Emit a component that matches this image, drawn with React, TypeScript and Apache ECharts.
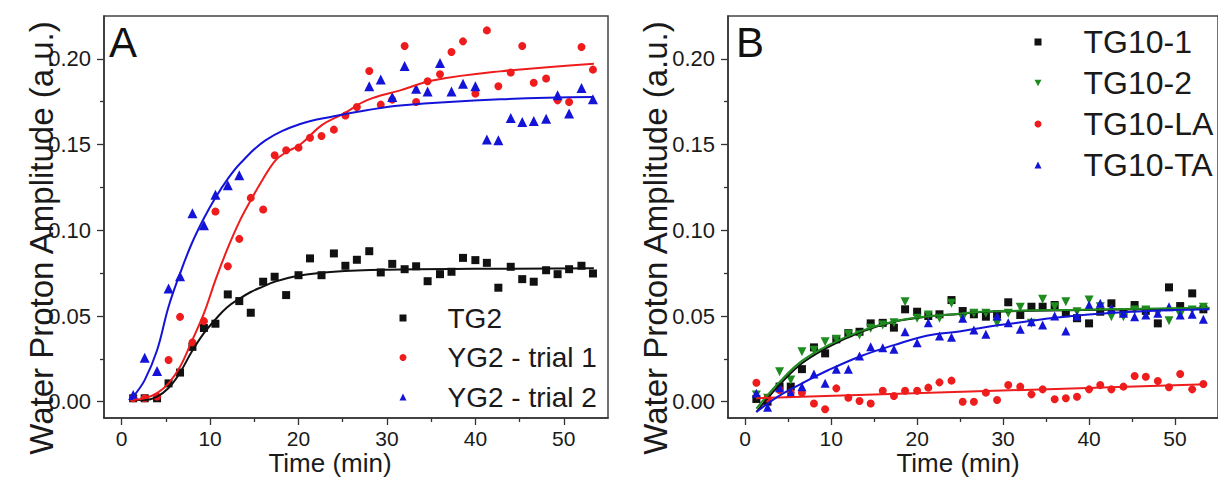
import React, { useEffect, useRef } from "react";
import * as echarts from "echarts";

// ---- shared sampling times (min) ----
const timeMin = [1.3, 2.6, 4.0, 5.3, 6.6, 8.0, 9.3, 10.6, 12.0, 13.3, 14.6, 16.0, 17.3, 18.6, 20.0, 21.3, 22.6, 24.0, 25.3, 26.6, 28.0, 29.3, 30.6, 32.0, 33.3, 34.6, 36.0, 37.3, 38.6, 40.0, 41.3, 42.6, 44.0, 45.3, 46.6, 48.0, 49.3, 50.6, 52.0, 53.3];

// ---- panel A data ----
const tg2 = [0.002, 0.002, 0.002, 0.0107, 0.017, 0.032, 0.043, 0.0455, 0.0626, 0.0587, 0.0519, 0.070, 0.0729, 0.0622, 0.0738, 0.0836, 0.0738, 0.0865, 0.0793, 0.0828, 0.0878, 0.0754, 0.0804, 0.0773, 0.079, 0.0703, 0.0744, 0.0758, 0.0839, 0.0826, 0.081, 0.0665, 0.0787, 0.0715, 0.070, 0.0767, 0.0744, 0.0773, 0.0793, 0.0748];
const yg2Trial1 = [0.002, 0.002, 0.003, 0.0243, 0.0495, 0.0346, 0.047, 0.111, 0.079, 0.095, 0.1189, 0.1121, 0.1438, 0.1467, 0.1482, 0.154, 0.155, 0.1587, 0.167, 0.1719, 0.1929, 0.1733, 0.1762, 0.2075, 0.1748, 0.1869, 0.191, 0.204, 0.2102, 0.1797, 0.2166, 0.184, 0.192, 0.2075, 0.1861, 0.1885, 0.1758, 0.1748, 0.2069, 0.1937];
const yg2Trial2 = [0.0039, 0.0257, 0.0179, 0.066, 0.0732, 0.110, 0.103, 0.1208, 0.1263, 0.1321, null, null, null, null, null, null, null, null, null, null, 0.184, 0.1879, 0.1777, 0.1958, 0.1826, 0.181, 0.1976, 0.181, 0.1855, 0.184, 0.1529, 0.1525, 0.1655, 0.1632, 0.1638, 0.1651, 0.1787, 0.1681, 0.183, 0.1764];

const tg2FitT = [1.3, 2.6, 4.0, 5.3, 6.6, 7.9, 9.3, 10.6, 11.9, 13.3, 14.6, 15.9, 17.3, 20.0, 24.0, 30.0, 40.0, 53.4];
const tg2FitY = [0.001, 0.001, 0.003, 0.008, 0.017, 0.029, 0.040, 0.048, 0.055, 0.060, 0.064, 0.067, 0.070, 0.0735, 0.0758, 0.0770, 0.0775, 0.0778];
const yg2Trial1FitT = [1.3, 2.6, 4.0, 5.3, 6.6, 7.9, 9.3, 10.6, 11.9, 13.3, 14.6, 15.9, 17.4, 18.65, 20.2, 22.6, 25.1, 27.7, 31.5, 35.3, 42.8, 53.4];
const yg2Trial1FitY = [0.001, 0.002, 0.005, 0.0107, 0.0204, 0.035, 0.0515, 0.0709, 0.0884, 0.1049, 0.1175, 0.1292, 0.1408, 0.1457, 0.150, 0.1612, 0.168, 0.1758, 0.1816, 0.1875, 0.1927, 0.1972];
const yg2Trial2FitT = [1.3, 2.6, 4.0, 5.3, 6.6, 7.9, 9.3, 10.6, 12.0, 13.4, 16.3, 20.2, 24.0, 27.7, 31.5, 42.8, 53.4];
const yg2Trial2FitY = [0.003, 0.0126, 0.030, 0.0554, 0.0748, 0.092, 0.107, 0.119, 0.130, 0.139, 0.1526, 0.162, 0.1665, 0.170, 0.1728, 0.1764, 0.1777];

// ---- panel B data ----
const tg10_1 = [0.0016, 0.0, 0.0088, 0.0088, 0.019, 0.0317, 0.0282, 0.0364, 0.040, 0.0408, 0.0457, 0.046, 0.0432, 0.0539, 0.0525, 0.050, 0.051, 0.0593, 0.0529, 0.051, 0.0496, 0.051, 0.058, 0.0506, 0.0554, 0.0554, 0.0564, 0.0516, 0.0487, 0.0457, 0.0525, 0.0574, 0.052, 0.0564, 0.053, 0.0457, 0.0667, 0.0558, 0.0632, 0.0539];
const tg10_2 = [0.0039, 0.002, 0.0175, 0.0127, 0.0292, 0.030, 0.035, 0.0364, 0.0393, 0.0389, 0.0428, 0.0447, 0.046, 0.0583, 0.0487, 0.0506, 0.0487, 0.0574, 0.0487, 0.0516, 0.0516, 0.0457, 0.0516, 0.0551, 0.0457, 0.0597, 0.0554, 0.0583, 0.0525, 0.0593, 0.0554, 0.0496, 0.0496, 0.0535, 0.0535, 0.0516, 0.0473, 0.0506, 0.0535, 0.0551];
const tg10LA = [0.0111, 0.002, 0.0068, 0.0053, 0.0053, -0.001, -0.0044, 0.0078, 0.0023, 0.0004, -0.001, 0.0064, 0.0033, 0.0064, 0.0064, 0.0082, 0.0113, 0.0123, 0.0, 0.0, 0.0053, 0.001, 0.0097, 0.0088, 0.0043, 0.0072, 0.0014, 0.002, 0.0029, 0.0072, 0.0097, 0.0072, 0.0088, 0.015, 0.0146, 0.0121, 0.0084, 0.0162, 0.0072, 0.0103];
const tg10TA = [0.0049, -0.0033, 0.0082, 0.0053, 0.0088, 0.0162, 0.0107, 0.0189, 0.0189, 0.0267, 0.0321, 0.0315, 0.0306, 0.0408, 0.0344, 0.0461, 0.0383, 0.0376, 0.0487, 0.0418, 0.0393, 0.050, 0.0461, 0.0422, 0.0467, 0.0447, 0.050, 0.0413, 0.050, 0.0564, 0.0574, 0.0545, 0.0516, 0.0496, 0.0506, 0.0516, 0.0554, 0.0506, 0.051, 0.0481];

const tg10_1FitT = [1.3, 3.8, 6.6, 9.7, 13.5, 17.3, 21.1, 24.9, 27.9, 39.3, 54.0];
const tg10_1FitY = [-0.006, 0.0088, 0.0224, 0.032, 0.0408, 0.0467, 0.0496, 0.0512, 0.0525, 0.0535, 0.0545];
const tg10_2FitT = [1.3, 3.8, 6.6, 9.7, 13.5, 17.3, 21.1, 24.9, 27.9, 39.3, 54.0];
const tg10_2FitY = [-0.004, 0.0105, 0.0238, 0.033, 0.0413, 0.0468, 0.0497, 0.0513, 0.0526, 0.0537, 0.0548];
const tg10LAFitT = [1.3, 53.6];
const tg10LAFitY = [0.002, 0.0102];
const tg10TAFitT = [1.3, 3.8, 6.6, 9.7, 13.5, 17.3, 21.1, 24.9, 27.9, 31.7, 35.5, 39.3, 45.0, 54.0];
const tg10TAFitY = [-0.006, 0.003, 0.0107, 0.0185, 0.0267, 0.033, 0.0385, 0.041, 0.0435, 0.0461, 0.0487, 0.0506, 0.0525, 0.0539];

// ---- axis ticks ----
const xMajorTicks = [0, 10, 20, 30, 40, 50];
const xMinorTicks = [5, 15, 25, 35, 45];
const yMajorTicks = [0, 0.05, 0.1, 0.15, 0.2];
const yMinorTicks = [0.025, 0.075, 0.125, 0.175];

const FONT = "'Liberation Sans', Arial, sans-serif";
const INK = "#1a1a1a";
const BLACK = "#111111";
const RED = "#ee1c1c";
const BLUE = "#1414d8";
const GREEN = "#1e8c1e";

const pts = (vals: (number | null)[]) =>
  timeMin.map((t, i) => [t, vals[i]]).filter((d) => d[1] !== null);
const pairs = (ts: number[], ys: number[]) => ts.map((t, i) => [t, ys[i]]);

function xAxes(gridIndex: number) {
  const base = {
    type: "value",
    gridIndex,
    position: "bottom",
    offset: 0,
    min: -2,
    max: 55,
    splitLine: { show: false },
  };
  return [
    {
      ...base,
      axisLine: { show: true, onZero: false, lineStyle: { color: "#333", width: 1.5 } },
      axisTick: { show: true, customValues: xMajorTicks, length: 7, lineStyle: { color: "#333", width: 1.3 } },
      axisLabel: {
        show: true,
        customValues: xMajorTicks,
        fontSize: 21,
        color: INK,
        fontFamily: FONT,
        margin: 10,
      },
    },
    {
      ...base,
      axisLine: { show: false, onZero: false },
      axisTick: { show: true, customValues: xMinorTicks, length: 4, lineStyle: { color: "#333", width: 1.3 } },
      axisLabel: { show: false },
    },
  ];
}

function yAxes(gridIndex: number) {
  const base = {
    type: "value",
    gridIndex,
    position: "left",
    offset: 0,
    min: -0.0095,
    max: 0.225,
    splitLine: { show: false },
  };
  return [
    {
      ...base,
      axisLine: { show: true, onZero: false, lineStyle: { color: "#333", width: 1.5 } },
      axisTick: { show: true, customValues: yMajorTicks, length: 7, lineStyle: { color: "#333", width: 1.3 } },
      axisLabel: {
        show: true,
        customValues: yMajorTicks,
        formatter: (v: number) => v.toFixed(2),
        fontSize: 22,
        color: INK,
        fontFamily: FONT,
        margin: 13,
      },
    },
    {
      ...base,
      axisLine: { show: false, onZero: false },
      axisTick: { show: true, customValues: yMinorTicks, length: 4, lineStyle: { color: "#333", width: 1.3 } },
      axisLabel: { show: false },
    },
  ];
}

function scatter(name: string, vals: (number | null)[], axis: number, color: string, symbol: string, size: number, rotate = 0) {
  return {
    type: "scatter",
    name,
    xAxisIndex: axis,
    yAxisIndex: axis,
    data: pts(vals),
    symbol,
    symbolSize: size,
    symbolRotate: rotate,
    itemStyle: { color, opacity: 1 },
    z: 3,
  };
}

function fit(name: string, ts: number[], ys: number[], axis: number, color: string) {
  return {
    type: "line",
    name,
    xAxisIndex: axis,
    yAxisIndex: axis,
    data: pairs(ts, ys),
    smooth: 0.4,
    showSymbol: false,
    symbol: "none",
    lineStyle: { color, width: 2 },
    z: 4,
  };
}

export default function App() {
  const ref = useRef<HTMLDivElement>(null);
  useEffect(() => {
    if (!ref.current) return;
    const chart = echarts.init(ref.current, null, { renderer: "svg" });
    const downTri = "path://M0,0L10,0L5,9Z";
    const option: any = {
      animation: false,
      textStyle: { fontFamily: FONT },
      grid: [
        { left: 104, top: 16, width: 504, height: 402, show: true, borderColor: "#444", borderWidth: 1.5, backgroundColor: "transparent" },
        { left: 728, top: 16, width: 499, height: 402, show: true, borderColor: "#444", borderWidth: 1.5, backgroundColor: "transparent" },
      ],
      xAxis: [...xAxes(0), ...xAxes(1)],
      yAxis: [...yAxes(0), ...yAxes(1)],
      legend: [
        {
          orient: "vertical",
          left: 399.5,
          top: 303,
          padding: 0,
          itemGap: 9.5,
          itemWidth: 7,
          itemHeight: 7,
          selectedMode: false,
          textStyle: { fontSize: 28, lineHeight: 30, color: INK, fontFamily: FONT, padding: [0, 0, 0, 36] },
          data: [
            { name: "TG2", icon: "rect" },
            { name: "YG2 - trial 1", icon: "circle" },
            { name: "YG2 - trial 2", icon: "triangle" },
          ],
        },
        {
          orient: "vertical",
          left: 1034.5,
          top: 26,
          padding: 0,
          itemGap: 9,
          itemWidth: 7,
          itemHeight: 7,
          selectedMode: false,
          textStyle: { fontSize: 32, lineHeight: 32, color: INK, fontFamily: FONT, padding: [0, 0, 0, 37] },
          data: [
            { name: "TG10-1", icon: "rect" },
            { name: "TG10-2", icon: downTri },
            { name: "TG10-LA", icon: "circle" },
            { name: "TG10-TA", icon: "triangle" },
          ],
        },
      ],
      graphic: [
        { type: "text", x: 109, y: 42, style: { text: "A", fontSize: 42, fontFamily: FONT, fill: BLACK, align: "left", verticalAlign: "middle" } },
        { type: "text", x: 736, y: 42, style: { text: "B", fontSize: 42, fontFamily: FONT, fill: BLACK, align: "left", verticalAlign: "middle" } },
        { type: "text", x: 41, y: 238, rotation: Math.PI / 2, style: { text: "Water Proton Amplitude (a.u.)", fontSize: 33, fontFamily: FONT, fill: INK, align: "center", verticalAlign: "middle" } },
        { type: "text", x: 655, y: 238, rotation: Math.PI / 2, style: { text: "Water Proton Amplitude (a.u.)", fontSize: 33, fontFamily: FONT, fill: INK, align: "center", verticalAlign: "middle" } },
        { type: "text", x: 330, y: 463, style: { text: "Time (min)", fontSize: 26, fontFamily: FONT, fill: INK, align: "center", verticalAlign: "middle" } },
        { type: "text", x: 958, y: 463, style: { text: "Time (min)", fontSize: 26, fontFamily: FONT, fill: INK, align: "center", verticalAlign: "middle" } },
      ],
      series: [
        scatter("TG2", tg2, 0, BLACK, "rect", 8),
        scatter("YG2 - trial 1", yg2Trial1, 0, RED, "circle", 8),
        scatter("YG2 - trial 2", yg2Trial2, 0, BLUE, "triangle", 10),
        fit("TG2 fit", tg2FitT, tg2FitY, 0, BLACK),
        fit("YG2 - trial 1 fit", yg2Trial1FitT, yg2Trial1FitY, 0, RED),
        fit("YG2 - trial 2 fit", yg2Trial2FitT, yg2Trial2FitY, 0, BLUE),
        scatter("TG10-1", tg10_1, 2, BLACK, "rect", 8),
        scatter("TG10-2", tg10_2, 2, GREEN, downTri, 9),
        scatter("TG10-LA", tg10LA, 2, RED, "circle", 8),
        scatter("TG10-TA", tg10TA, 2, BLUE, "triangle", 9),
        fit("TG10-1 fit", tg10_1FitT, tg10_1FitY, 2, BLACK),
        fit("TG10-2 fit", tg10_2FitT, tg10_2FitY, 2, GREEN),
        fit("TG10-LA fit", tg10LAFitT, tg10LAFitY, 2, RED),
        fit("TG10-TA fit", tg10TAFitT, tg10TAFitY, 2, BLUE),
      ],
    };
    chart.setOption(option);
    return () => chart.dispose();
  }, []);
  return (
    <div
      ref={ref}
      style={{ position: "absolute", left: 0, top: 0, width: 1218, height: 479, overflow: "hidden", background: "#fff" }}
    />
  );
}
